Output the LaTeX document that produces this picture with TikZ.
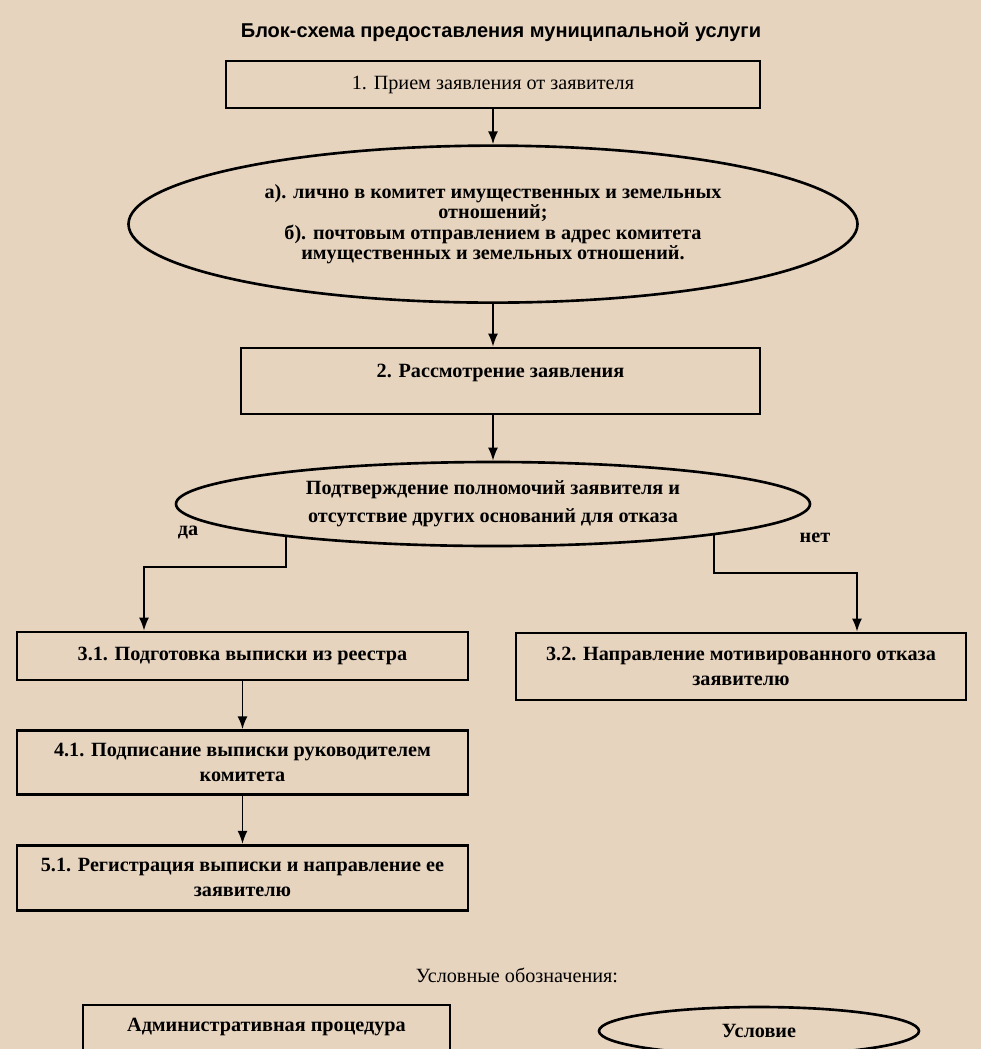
\documentclass[tikz,border=0pt]{standalone}
\usepackage{fontspec}
\setmainfont{Liberation Serif}
\setsansfont{Liberation Sans}
\usetikzlibrary{positioning,arrows.meta,shapes.geometric}
\definecolor{paper}{RGB}{231,212,191}
\tikzset{
  block/.style={
    draw,
    rectangle,
    line width=1.5pt,
    inner sep=0pt,
    align=center,
    font=\bfseries\fontsize{11.5}{14.2}\selectfont
  },
  cond/.style={
    draw,
    ellipse,
    line width=1.5pt,
    inner sep=0pt,
    align=center,
    font=\bfseries\fontsize{11.5}{11.6}\selectfont
  },
  line/.style={-{Latex[length=0.26cm,width=0.2cm]},line width=1.1pt},
  branchlbl/.style={font=\bfseries\fontsize{11.5}{13}\selectfont}
}
\begin{document}
\begin{tikzpicture}[x=0.02cm,y=-0.02cm]

				\fill[paper] (0,0) rectangle (981,1049);
				\useasboundingbox (0,0) rectangle (981,1049);
				\clip (0,0) rectangle (981,1049);

				\node[font=\sffamily\bfseries\fontsize{11.4}{13}\selectfont] (title) at (501,32) {Блок-схема предоставления муниципальной услуги};

				\node[block, minimum width=534*0.02cm, minimum height=47*0.02cm, font=\fontsize{11.5}{13}\selectfont] (n1) at (493,84.5) {1. Прием заявления от заявителя};

				\node[cond, minimum width=729*0.02cm, minimum height=157*0.02cm, below = 0.7cm of n1] (e1) {а). лично в комитет имущественных и земельных\\ отношений;\\ б). почтовым отправлением в адрес комитета\\ имущественных и земельных отношений.};
				\draw[line] (n1.south) -- (e1.north) ;

				\node[block, minimum width=519*0.02cm, minimum height=66*0.02cm, text depth=0.4cm] (n2) at (500.5,381) {2. Рассмотрение заявления};
				\draw[line] (e1.south) -- (e1.south |- n2.north) ;

				\node[cond, minimum width=634*0.02cm, minimum height=84*0.02cm, font=\bfseries\fontsize{11.5}{15.9}\selectfont] (e2) at (493,504) {Подтверждение полномочий заявителя и\\ отсутствие других оснований для отказа};
				\draw[line] (n2.south -| e2.north) -- (e2.north) ;

				\node[block, minimum width=451*0.02cm, minimum height=48*0.02cm] (n31) at (242.5,656) {3.1. Подготовка выписки из реестра};
				\node[block, minimum width=450*0.02cm, minimum height=67*0.02cm] (n32) at (741,666.5) {3.2. Направление мотивированного отказа\\ заявителю};

				\coordinate (dl) at (144,567);
				\coordinate (dr) at (857,573);
				\draw[line] (e2.189) |- (dl) -- (dl |- n31.north) ;
				\draw[line] (e2.352) |- (dr) -- (dr |- n32.north) ;
				\node[branchlbl] (yes) at (188,533) {да};
				\node[branchlbl] (no) at (815,538) {нет};

				\node[block, minimum width=451*0.02cm, minimum height=64*0.02cm, below = 0.96cm of n31] (n41) {4.1. Подписание выписки руководителем\\ комитета};
				\draw[line] (n31) -- (n41) ;

				\node[block, minimum width=451*0.02cm, minimum height=65*0.02cm, below = 0.96cm of n41] (n51) {5.1. Регистрация выписки и направление ее\\ заявителю};
				\draw[line] (n41) -- (n51) ;

				\node[font=\fontsize{11.5}{13}\selectfont] (legend) at (517,975) {Условные обозначения:};
				\node[block, minimum width=367*0.02cm, minimum height=50*0.02cm, text depth=0.2cm] (legbox) at (266.5,1030) {Административная процедура};
				\node[cond, minimum width=320*0.02cm, minimum height=48*0.02cm] (legcond) at (759,1031) {Условие};

\end{tikzpicture}
\end{document}
